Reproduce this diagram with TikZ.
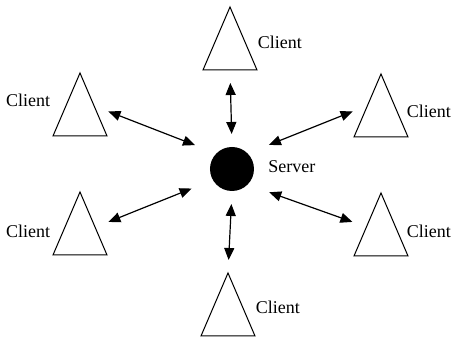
\documentclass[tikz,border=0pt]{standalone}
\usepackage{fontspec}
\setmainfont{Liberation Serif}
\usepackage{tikz}
\usetikzlibrary{positioning,arrows.meta,shapes.geometric}

\begin{document}
\begin{tikzpicture}[
  x=0.5pt, y=-0.5pt,
  font=\fontsize{9}{10}\selectfont,
  client/.style={draw, line width=0.5pt, isosceles triangle,
                 shape border rotate=90, isosceles triangle stretches,
                 minimum width=27pt, minimum height=31.5pt,
                 inner sep=0pt, outer sep=0pt, anchor=apex},
  server/.style={circle, fill=black, minimum size=22pt,
                 inner sep=0pt, outer sep=0pt},
  arr/.style={{Triangle[length=6pt,width=5pt]}-{Triangle[length=6pt,width=5pt]},
              line width=0.6pt},
  axis/.style={arr, shorten <=6.5pt, shorten >=6.5pt},
  diag/.style={arr, shorten <=11.5pt, shorten >=8pt},
  lbl/.style={inner sep=0pt}
]
\useasboundingbox (0,0) rectangle (452,340);

\node[server] (srv) at (232,169) {};
\node[client] (ctop) at (230,7)   {};
\node[client] (clt)  at (80,73)   {};
\node[client] (crt)  at (381,74)  {};
\node[client] (clb)  at (80,192)  {};
\node[client] (crb)  at (381,193) {};
\node[client] (cbot) at (228,273) {};

%% labels sit beside the slanted sides
\node[lbl, right=7pt of srv.east, yshift=1pt]          {Server};
\node[lbl, right=7pt of ctop.right side, yshift=-2pt]  {Client};
\node[lbl, left=8pt of clt.left side, yshift=2pt]      {Client};
\node[lbl, right=6pt of crt.right side, yshift=-3pt]   {Client};
\node[lbl, left=8pt of clb.left side, yshift=-4pt]     {Client};
\node[lbl, right=6pt of crb.right side, yshift=-3.5pt] {Client};
\node[lbl, right=7pt of cbot.right side, yshift=-1.5pt]{Client};

\draw[axis] (srv.north) -- (ctop.lower side);
\draw[axis] (srv.south) -- (cbot.apex);
\draw[diag] (srv.north west) -- ([yshift=-0.6pt]clt.right side);
\draw[diag] (srv.210) -- ([yshift=-2.2pt]clb.right side);
\draw[diag] (srv.north east) -- (crt.left side);
\draw[diag] (srv.south east) -- ([yshift=-1.4pt]crb.left side);
\end{tikzpicture}
\end{document}
